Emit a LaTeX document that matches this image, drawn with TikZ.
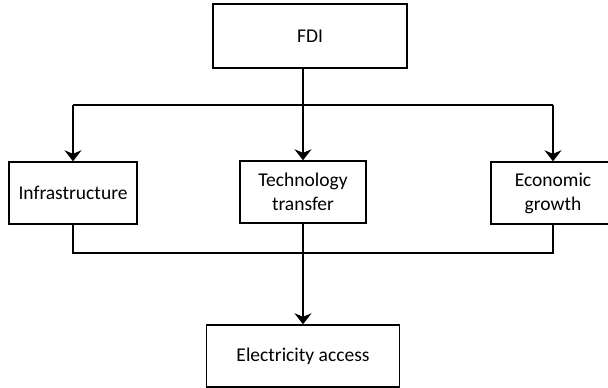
\documentclass[tikz,border=0pt]{standalone}
\usepackage{fontspec}
\setmainfont{Carlito}
\usetikzlibrary{arrows.meta}
\begin{document}
\begin{tikzpicture}[x=1pt,y=1pt,
  box/.style={draw, line width=1.4pt, minimum height=62pt, inner sep=0pt, align=center, font=\fontsize{19.5}{24}\selectfont},
  conn/.style={line width=1.6pt},
  arr/.style={conn, -{Stealth[length=11pt,width=17pt,inset=3.5pt]}}]
\useasboundingbox (0,0) rectangle (608,388);
\node[box, minimum width=194pt, minimum height=64pt] (fdi) at (310,352) {FDI};
\node[box, minimum width=128pt] (infra) at (73,195) {Infrastructure};
\node[box, minimum width=126pt] (tech) at (303,196) {Technology\\transfer};
\node[box, minimum width=124pt] (econ) at (553,195) {Economic\\growth};
\node[box, minimum width=193pt] (elec) at (303,32) {Electricity access};
\coordinate (j1) at (303,283);
\coordinate (j2) at (303,135);
\draw[conn] (fdi.south -| j1) -- (j1);
\draw[conn] (infra.north |- j1) -- (econ.north |- j1);
\draw[arr] (infra.north |- j1) -- (infra.north);
\draw[arr] (j1) -- (tech.north);
\draw[arr] (econ.north |- j1) -- (econ.north);
\draw[conn] (infra.south) |- (j2) -| (econ.south);
\draw[arr] (tech.south) -- (elec.north);
\end{tikzpicture}
\end{document}
